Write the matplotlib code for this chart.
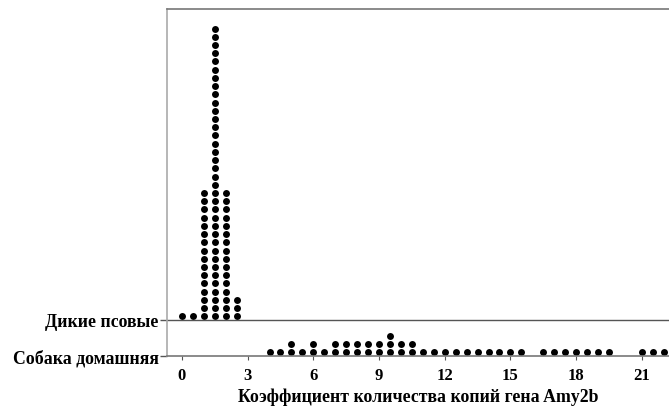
import matplotlib
matplotlib.use("Agg")
import matplotlib.pyplot as plt

# Data: dot plot of Amy2b copy number (each dot = one animal)
wild_values = [0.0, 0.5, 1.0, 1.5, 2.0, 2.5]
wild_counts = [1, 1, 16, 36, 16, 3]
dom_values = [4.0, 4.5, 5.0, 5.5, 6.0, 6.5, 7.0, 7.5, 8.0, 8.5, 9.0, 9.5,
              10.0, 10.5, 11.0, 11.5, 12.0, 12.5, 13.0, 13.5, 14.0, 14.5,
              15.0, 15.5, 16.5, 17.0, 17.5, 18.0, 18.5, 19.0, 19.5,
              21.0, 21.5, 22.0]
dom_counts = [1, 1, 2, 1, 2, 1, 2, 2, 2, 2, 2, 3,
              2, 2, 1, 1, 1, 1, 1, 1, 1, 1,
              1, 1, 1, 1, 1, 1, 1, 1, 1,
              1, 1, 1]
group_labels = ["Собака домашняя", "Дикие псовые"]
xticks = [0, 3, 6, 9, 12, 15, 18, 21]
xlabel = "Коэффициент количества копий гена Amy2b"

W, H = 669, 410
fig = plt.figure(figsize=(W / 100, H / 100), dpi=100)
ax_left, ax_right, ax_top, ax_bottom = 167, 670, 10, 357
ax = fig.add_axes([ax_left / W, (H - ax_bottom) / H,
                   (ax_right - ax_left) / W, (ax_bottom - ax_top) / H])

# y axis in pixel-like units from the bottom spine
ymax = ax_bottom - ax_top
sep = ax_bottom - 321
step = 8.22
off = 3.7

def stack(values, counts, base):
    xs, ys = [], []
    for v, c in zip(values, counts):
        for k in range(c):
            xs.append(v)
            ys.append(base + off + k * step)
    return xs, ys

xw, yw = stack(wild_values, wild_counts, sep)
xd, yd = stack(dom_values, dom_counts, 0)
ax.plot(xw, yw, 'o', color='black', markersize=5.0, markeredgewidth=0, clip_on=False)
ax.plot(xd, yd, 'o', color='black', markersize=5.0, markeredgewidth=0, clip_on=False)

ax.axhline(sep, color='#555555', lw=1.0)

x0px, pxu = 181.9, 21.9
ax.set_xlim((ax_left - x0px) / pxu, (ax_right - x0px) / pxu)
ax.set_ylim(0, ymax)

serif = ['Liberation Serif', 'DejaVu Serif']
ax.set_xticks(xticks)
ax.set_xticklabels([str(t) for t in xticks], fontfamily=serif,
                   fontweight='bold', fontsize=12)
ax.set_yticks([0, sep])
ax.set_yticklabels(group_labels, fontfamily=serif, fontweight='bold', fontsize=12.8)
ax.tick_params(axis='x', length=3, width=0.8, pad=5, colors='#555555', labelcolor='black')
ax.tick_params(axis='y', length=5, width=1.0, pad=1, colors='#555555', labelcolor='black')

for s in ['left', 'top', 'bottom']:
    ax.spines[s].set_color('#777777')
    ax.spines[s].set_linewidth(1.2)
ax.spines['left'].set_color('#aaaaaa')
ax.spines['right'].set_visible(False)

fig.text((167 + 669) / 2 / W, 1 - 397 / H, xlabel, ha='center', va='center',
         fontfamily=serif, fontweight='bold', fontsize=12.8)

fig.savefig("out.png", dpi=100)
